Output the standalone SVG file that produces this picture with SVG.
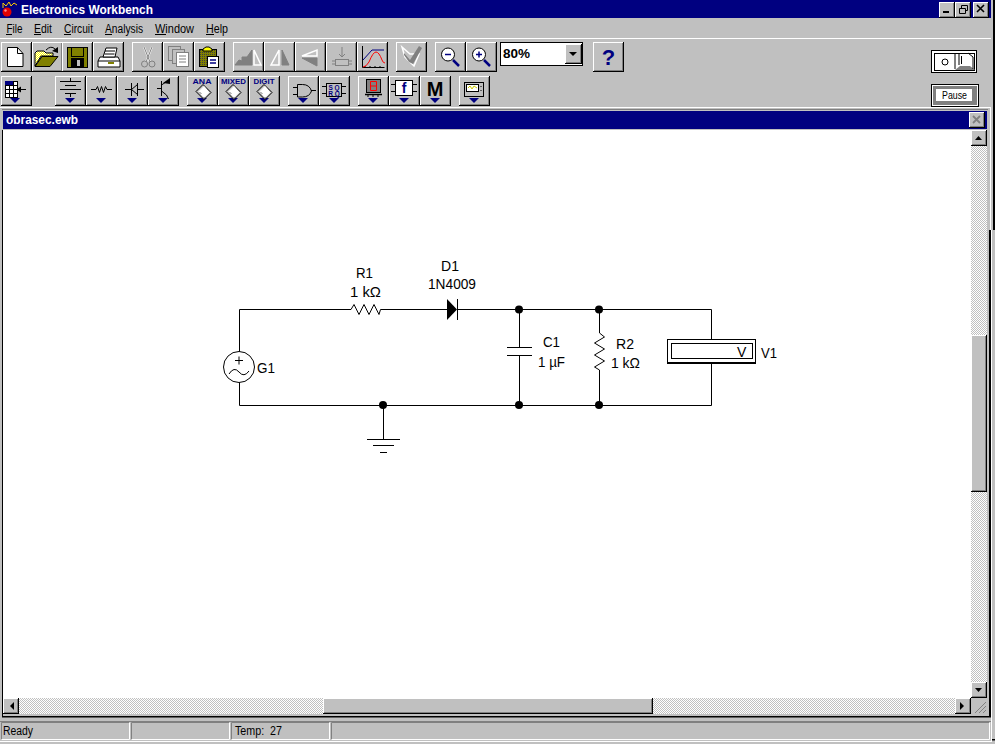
<svg xmlns="http://www.w3.org/2000/svg" width="995" height="744" viewBox="0 0 995 744">
<style>
.ui{font-family:"Liberation Sans",Arial,sans-serif;font-size:12px;fill:#000}
.b{font-weight:bold}
.wt{fill:#fff}
.lab{font-family:"Liberation Sans",Arial,sans-serif;font-size:14px;fill:#000}
.w{fill:none;stroke:#000;stroke-width:1}
.ic{fill:none;stroke:#000;stroke-width:1}
.gi{fill:#808080;stroke:#808080;stroke-width:1}
.ho{fill:#c0c0c0;stroke:#fff;stroke-width:1.5}
.n{fill:#000080}
.dot{fill:#000}
.chip{font-family:"Liberation Sans",Arial,sans-serif;font-size:7.5px;fill:#000080;text-anchor:middle;font-weight:bold}
</style>
<defs>
<pattern id="dither" width="2" height="2" patternUnits="userSpaceOnUse"><rect width="2" height="2" fill="#fff"/><rect width="1" height="1" fill="#c0c0c0"/><rect x="1" y="1" width="1" height="1" fill="#c0c0c0"/></pattern>
<pattern id="ydither" width="2" height="2" patternUnits="userSpaceOnUse"><rect width="2" height="2" fill="#ffff00"/><rect width="1" height="1" fill="#fff"/><rect x="1" y="1" width="1" height="1" fill="#fff"/></pattern>
<pattern id="odither" width="2" height="2" patternUnits="userSpaceOnUse"><rect width="2" height="2" fill="#808000"/><rect width="1" height="1" fill="#404040"/></pattern>
<g id="btn"><rect width="31" height="30" fill="#000"/><rect width="30" height="29" fill="#fff"/><rect x="1" y="1" width="29" height="28" fill="#808080"/><rect x="1" y="1" width="28" height="27" fill="#c0c0c0"/></g>
<g id="sbtn"><rect width="16" height="16" fill="#000"/><rect width="15" height="15" fill="#fff"/><rect x="1" y="1" width="14" height="14" fill="#808080"/><rect x="1" y="1" width="13" height="13" fill="#c0c0c0"/></g>
<path id="tri" d="M-5 0h10l-5 5z" class="n"/>
<g id="chipic"><path d="M0 -7l8 8-7 7-8-8z" fill="#c0c0c0" stroke="#000"/><path d="M1 -5l5 6-5 5-5-6z" fill="#fff" stroke="#fff"/><path d="M-3 1l1 1M1 6l1 1" stroke="#000"/></g>
</defs>
<rect width="995" height="744" fill="#c0c0c0"/>
<g id="titlebar">
<rect x="0" y="0" width="991" height="18" class="n"/>
<rect x="993" y="0" width="2" height="230" fill="#000"/>
<path d="M3 8V3l3 3 3-4 2 4 3-3 3 2" fill="none" stroke="#ffcc00"/>
<circle cx="7" cy="12" r="4.500" fill="#e00000"/>
<circle cx="5.500" cy="10.500" r="1.200" fill="#ff9090"/>
<text x="21" y="13.500" class="ui b wt" textLength="132" lengthAdjust="spacingAndGlyphs" style="font-size:12.500px">Electronics Workbench</text>
<use href="#sbtn" x="939" y="2"/>
<use href="#sbtn" x="955" y="2"/>
<use href="#sbtn" x="973" y="2"/>
<rect x="943" y="11" width="6" height="2"/>
<path d="M959.500 8.500h6v5h-6zM961.500 8.500v-3h6v5h-2" fill="none" stroke="#000"/>
<path d="M977 5l7 7M984 5l-7 7" stroke="#000" stroke-width="1.600"/>
</g>
<g id="menubar">
<text x="6.500" y="32.500" class="ui" textLength="16" lengthAdjust="spacingAndGlyphs">File</text><rect x="6" y="34" width="6" height="1"/>
<text x="34" y="32.500" class="ui" textLength="18" lengthAdjust="spacingAndGlyphs">Edit</text><rect x="34" y="34" width="7" height="1"/>
<text x="64" y="32.500" class="ui" textLength="29" lengthAdjust="spacingAndGlyphs">Circuit</text><rect x="64" y="34" width="7" height="1"/>
<text x="105" y="32.500" class="ui" textLength="38" lengthAdjust="spacingAndGlyphs">Analysis</text><rect x="105" y="34" width="7" height="1"/>
<text x="155" y="32.500" class="ui" textLength="39" lengthAdjust="spacingAndGlyphs">Window</text><rect x="155" y="34" width="11" height="1"/>
<text x="206" y="32.500" class="ui" textLength="22" lengthAdjust="spacingAndGlyphs">Help</text><rect x="206" y="34" width="8" height="1"/>
<rect x="0" y="38" width="991" height="1" fill="#fff"/>
</g>
<g id="toolbar1">
<use href="#btn" x="1" y="42"/><use href="#btn" x="32" y="42"/><use href="#btn" x="62" y="42"/><use href="#btn" x="93" y="42"/>
<use href="#btn" x="132" y="42"/><use href="#btn" x="163" y="42"/><use href="#btn" x="194" y="42"/>
<use href="#btn" x="233" y="42"/><use href="#btn" x="264" y="42"/><use href="#btn" x="295" y="42"/><use href="#btn" x="326" y="42"/><use href="#btn" x="357" y="42"/>
<use href="#btn" x="396" y="42"/><use href="#btn" x="435" y="42"/><use href="#btn" x="466" y="42"/><use href="#btn" x="593" y="42"/>
<path d="M7.500 47.500h10l5.500 6v13H7.500z" fill="#fff" stroke="#000"/><path d="M17.500 47.500v6h5.500" fill="none" stroke="#000"/>
<path d="M35 66V53l2-2h7l2 2h7v3H41z" fill="url(#ydither)" stroke="#000"/><path d="M35 66.500l7-10h16l-8 10z" fill="#808000" stroke="#000"/><path d="M46 50q5-5 9-1" fill="none" stroke="#000"/><path d="M52 51l6-4v6z"/>
<rect x="67.500" y="47.500" width="20" height="20" fill="#808000" stroke="#000"/><rect x="71.500" y="47.500" width="12" height="9" fill="#808000" stroke="#000"/><rect x="71" y="58" width="13" height="9.500" fill="#000"/><rect x="77" y="60" width="3" height="6" fill="#c0c0c0"/>
<path d="M98 61l2-4h18l2 4v6H98z" fill="#fff" stroke="#000"/><path d="M103 57l3-9h11l-2 9z" fill="#fff" stroke="#000"/><path d="M105 51h10M104.500 54h10" stroke="#000"/><path d="M98 61h22" stroke="#000"/><rect x="108" y="62" width="6" height="2" fill="#808000"/>
<path d="M144 47l6 15M152 47l-6 15" fill="none" stroke="#fff" stroke-width="2"/><path d="M144 47l6 15M152 47l-6 15" fill="none" stroke="#808080"/><circle cx="144.500" cy="64" r="3" fill="none" stroke="#808080"/><circle cx="152" cy="64" r="3" fill="none" stroke="#808080"/>
<rect x="168.500" y="46.500" width="12" height="14" fill="#c0c0c0" stroke="#808080"/><rect x="172.500" y="49.500" width="12" height="14" fill="#c0c0c0" stroke="#808080"/><rect x="176.500" y="52.500" width="12" height="14" fill="#fff" stroke="#808080"/><path d="M179 56h7M179 59h7M179 62h7" stroke="#808080"/>
<rect x="199.500" y="49.500" width="17" height="17" fill="url(#odither)" stroke="#000"/><path d="M203 51v-2l3-2h3l3 2v2z" fill="#ffff00" stroke="#000"/><rect x="207.500" y="56.500" width="11" height="11" fill="#fff" stroke="#000"/><path d="M210 60h6M210 63h6" stroke="#000080" stroke-width="1.500"/>
<path d="M235 65l4-5 3 1 0-4 5 0 5-7v15z" class="gi"/><path d="M254 50l7 15h-7z" class="ho"/>
<path d="M279 50l-8 15h8z" class="ho"/><path d="M282 50l7 15h-7z" class="gi"/>
<path d="M302 56l15-6v6z" class="ho"/><path d="M302 58h15v8z" class="gi"/>
<path d="M342 47v9M339 54l3 3 3-3" fill="none" stroke="#808080"/><rect x="335.500" y="59.500" width="13" height="6" fill="#c0c0c0" stroke="#808080"/><path d="M332 61h3M332 64h3M349 61h3M349 64h3" stroke="#808080"/>
<path d="M362.500 46v21.500h22M365 66v2M370 66v2M375 66v2M380 66v2" fill="none" stroke="#000"/><path d="M363 60l9-10h12" fill="none" stroke="#000080"/><path d="M363 67q3 0 6-5q4-10 7-10q3 0 6 8q1 3 3 3" fill="none" stroke="#f00"/>
<path d="M402 47l8 7h9l-5 12-9-9z" class="ho"/><path d="M404 53l6 7 9-14 3 2-9 16-4-2-5-7z" fill="#808080"/>
<circle cx="448" cy="54.500" r="6.500" fill="#fff" stroke="#000"/><path d="M445 54.500h6" stroke="#000080" stroke-width="1.500"/><path d="M453 60l6 6" stroke="#000080" stroke-width="2.500"/>
<circle cx="479" cy="54.500" r="6.500" fill="#fff" stroke="#000"/><path d="M476 54.500h6M479 51.500v6" stroke="#000080" stroke-width="1.500"/><path d="M484 60l6 6" stroke="#000080" stroke-width="2.500"/>
<rect x="500.500" y="42.500" width="82" height="23" fill="#fff" stroke="#000"/>
<text x="503" y="58" class="ui b" style="font-size:13.500px">80%</text>
<rect x="565" y="44" width="17" height="20" fill="#000"/><rect x="565" y="44" width="16" height="19" fill="#fff"/><rect x="566" y="45" width="15" height="18" fill="#808080"/><rect x="566" y="45" width="14" height="17" fill="#c0c0c0"/><path d="M569 52h8l-4 4z"/>
<text x="608.500" y="65" class="ui b" text-anchor="middle" style="font-size:22px;fill:#000080">?</text>
</g>
<g id="toolbar2">
<use href="#btn" x="1" y="76"/>
<use href="#btn" x="55" y="76"/><use href="#btn" x="86" y="76"/><use href="#btn" x="117" y="76"/><use href="#btn" x="148" y="76"/>
<use href="#btn" x="187" y="76"/><use href="#btn" x="218" y="76"/><use href="#btn" x="249" y="76"/>
<use href="#btn" x="288" y="76"/><use href="#btn" x="319" y="76"/>
<use href="#btn" x="358" y="76"/><use href="#btn" x="389" y="76"/><use href="#btn" x="420" y="76"/><use href="#btn" x="459" y="76"/>
<use href="#tri" x="15" y="98"/><use href="#tri" x="70" y="98"/><use href="#tri" x="101" y="98"/><use href="#tri" x="132" y="98"/><use href="#tri" x="163" y="98"/><use href="#tri" x="202" y="98"/><use href="#tri" x="233" y="98"/><use href="#tri" x="264" y="98"/><use href="#tri" x="303" y="98"/><use href="#tri" x="334" y="98"/><use href="#tri" x="373" y="98"/><use href="#tri" x="404" y="98"/><use href="#tri" x="435" y="98"/><use href="#tri" x="474" y="98"/>
<rect x="5.500" y="81.500" width="12" height="16" fill="#fff" stroke="#000"/><path d="M5.500 85.500h12M5.500 89.500h12M5.500 93.500h12M9.500 81.500v16M13.500 81.500v16" stroke="#000"/><rect x="5" y="81" width="8" height="4" class="n"/><path d="M17 89.500h9" stroke="#000"/><path d="M16 89.500l5-3v6z"/>
<path d="M60 81.500h21M65 85.500h11M60 89.500h21M65 93.500h11M70.500 78v3M70.500 94v3" class="ic"/>
<path d="M91 89.500h5l1.500-3 2 6 2-6 2 6 2-6 1.500 3h5" class="ic"/>
<path d="M125 89.500h6M138 89.500h6M131.500 83v13M137.500 83v13M131.500 89.500l6-5v10z" class="ic"/>
<path d="M161.500 81v15M157 88.500h4.500M161.500 85l6-4M161.500 91l5 4 2 4" class="ic"/><path d="M163 83l7-5v6z"/>
<text x="202" y="84" class="chip" textLength="19" lengthAdjust="spacingAndGlyphs">ANA</text><text x="233.500" y="84" class="chip" textLength="25" lengthAdjust="spacingAndGlyphs">MIXED</text><text x="264" y="84" class="chip" textLength="21" lengthAdjust="spacingAndGlyphs">DIGIT</text>
<use href="#chipic" x="203" y="91.500"/><use href="#chipic" x="233" y="91.500"/><use href="#chipic" x="264" y="91.500"/>
<path d="M297.500 84.500h5q7 0 9 6.500q-2 6-9 6h-5zM293 87.500h4M293 94.500h4M311 90.500h5" fill="none" stroke="#000"/>
<rect x="326.500" y="83.500" width="15" height="13" fill="#c0c0c0" stroke="#000"/><path d="M322 86.500h4M322 93.500h4M342 86.500h4M342 93.500h4" stroke="#000"/><text x="334" y="89.500" class="chip" style="font-size:6.500px">S Q</text><text x="334" y="95.500" class="chip" style="font-size:6.500px">R Q</text>
<rect x="366.500" y="79.500" width="14" height="13" fill="#808080" stroke="#000"/><path d="M370.500 81.500h6v9h-6zM370.500 86h6" fill="none" stroke="#f00"/><path d="M365 94.500h17" stroke="#000" stroke-width="1.500"/><path d="M368 94v3M373 94v3M378 94v3" stroke="#000"/>
<rect x="395.500" y="80.500" width="17" height="15" fill="#fff" stroke="#000"/><path d="M391 84.500h4M391 91.500h4M413 84.500h4M413 91.500h4" stroke="#000"/><text x="404" y="93" font-size="14" font-family="Liberation Sans,sans-serif" font-weight="bold" fill="#000080" text-anchor="middle">f</text>
<text x="435" y="96" font-size="20" font-family="Liberation Sans,sans-serif" font-weight="bold" text-anchor="middle">M</text>
<rect x="464.500" y="82.500" width="19" height="14" fill="#c0c0c0" stroke="#000"/><rect x="466" y="84" width="13" height="8" fill="#000"/><rect x="467" y="85" width="11" height="6" fill="#fff"/><path d="M468 88l2-2 2 3 2-3 3 2" fill="none" stroke="#cc0"/><path d="M481 86v1M481 90v1" stroke="#000"/>
</g>
<g id="switches">
<rect x="931.500" y="50.500" width="45" height="22" fill="#fff" stroke="#000"/>
<rect x="934.500" y="53.500" width="40" height="17" fill="#fff" stroke="#000"/>
<path d="M955 70l5-4h10l5 4z" fill="#808080"/><path d="M955 54v15M959 53v12M968 53l5 4v12" stroke="#000" fill="none"/>
<circle cx="945" cy="62" r="3" fill="none" stroke="#000"/><path d="M961.500 56v8" stroke="#000"/>
<rect x="931.500" y="84.500" width="47" height="22" fill="#fff" stroke="#000"/><rect x="933" y="86" width="44" height="19" fill="#808080"/><rect x="936" y="89" width="36" height="12" fill="#fff"/>
<text x="942" y="99" class="ui" textLength="25" lengthAdjust="spacingAndGlyphs" style="font-size:11px">Pause</text>
</g>
<g id="docwindow">
<rect x="0" y="107" width="990" height="1" fill="#fff"/>
<rect x="990" y="107" width="1" height="123" fill="#fff"/>
<rect x="2" y="109" width="986" height="1" fill="#808080"/>
<rect x="3" y="111" width="984" height="18" class="n"/>
<text x="6" y="124" class="ui b wt" textLength="72" lengthAdjust="spacingAndGlyphs">obrasec.ewb</text>
<use href="#sbtn" x="969" y="112"/>
<path d="M973 116l7 7M980 116l-7 7" stroke="#808080" stroke-width="1.800"/>
<rect x="3" y="130" width="984" height="584" fill="#fff"/>
<rect x="971" y="130" width="16" height="568" fill="url(#dither)"/>
<rect x="3" y="698" width="968" height="16" fill="url(#dither)"/>
<rect x="971" y="698" width="16" height="16" fill="#c0c0c0"/>
<use href="#sbtn" x="971" y="130"/><path d="M975 140h7l-3.500-4z"/>
<rect x="971" y="335" width="16" height="157" fill="#000"/><rect x="971" y="335" width="15" height="156" fill="#fff"/><rect x="972" y="336" width="14" height="155" fill="#808080"/><rect x="972" y="336" width="13" height="154" fill="#c0c0c0"/>
<use href="#sbtn" x="971" y="682"/><path d="M975 688h7l-3.500 4z"/>
<use href="#sbtn" x="3" y="698"/><path d="M14 702v8l-4-4z"/>
<rect x="323" y="698" width="330" height="16" fill="#000"/><rect x="323" y="698" width="329" height="15" fill="#fff"/><rect x="324" y="699" width="328" height="14" fill="#808080"/><rect x="324" y="699" width="327" height="13" fill="#c0c0c0"/>
<use href="#sbtn" x="955" y="698"/><path d="M960 702v8l4-4z"/>
<path d="M975 713l11-11M979 713l7-7M983 713l3-3" stroke="#808080"/>
<rect x="2" y="130" width="1" height="586" fill="#000"/>
<rect x="989" y="230" width="2" height="487" fill="#000"/>
<rect x="2" y="716" width="989" height="1.500" fill="#000"/>
<rect x="0" y="721" width="991" height="1" fill="#808080"/>
</g>
<g id="statusbar">
<path d="M1.500 739.500v-17h128M131.500 739.500v-17h98M231.500 739.500v-17h98M331.500 739.500v-17h658" fill="none" stroke="#808080"/>
<path d="M1.500 739.500h128v-17M131.500 739.500h98v-17M231.500 739.500h98v-17M331.500 739.500h658v-17" fill="none" stroke="#fff"/>
<text x="3" y="735" class="ui" textLength="30" lengthAdjust="spacingAndGlyphs">Ready</text>
<text x="235" y="735" class="ui" textLength="47" lengthAdjust="spacingAndGlyphs" xml:space="preserve">Temp:  27</text>
<rect x="0" y="741" width="992" height="1" fill="#fff"/>
<rect x="991" y="230" width="1" height="511" fill="#fff"/>
<rect x="992" y="739" width="3" height="1.500" fill="#000"/>
</g>
<g id="connectors">
<path class="w" d="M239.500 352V309.500H348M385 309.500H447M458 309.500H711.500V339M711.500 364V405.500H239.500V382"/>
<path class="w" d="M383.500 405.500V439"/>
<path class="w" d="M519.500 309.500V347.500M519.500 355.500V405.500"/>
<path class="w" d="M599.500 309.500V333M599.500 370V405.500"/>
</g>
<g id="G1"><circle cx="239" cy="367" r="15.500" fill="#fff" stroke="#000"/><path d="M235 360.500h8M239 356.500v8" stroke="#000"/><path d="M229 374q5-8 10-2t10-1" fill="none" stroke="#000"/><text x="257" y="373" class="lab" textLength="18" lengthAdjust="spacingAndGlyphs">G1</text></g>
<g id="R1"><path class="w" d="M348 309.500l3 0 3-5 5 10 5-10 5 10 5-10 5 10 1.500-5H385"/><text x="356" y="278" class="lab" textLength="17" lengthAdjust="spacingAndGlyphs">R1</text><text x="350" y="297" class="lab" textLength="31" lengthAdjust="spacingAndGlyphs">1 kΩ</text></g>
<g id="D1"><path d="M447 299v21l10-10.500z" fill="#000"/><path d="M457.500 299v21" stroke="#000"/><text x="441" y="271" class="lab" textLength="18" lengthAdjust="spacingAndGlyphs">D1</text><text x="428" y="289" class="lab" textLength="48" lengthAdjust="spacingAndGlyphs">1N4009</text></g>
<g id="C1"><path d="M507 347.500h25M507 355.500h25" stroke="#000"/><text x="543" y="347" class="lab" textLength="17" lengthAdjust="spacingAndGlyphs">C1</text><text x="538" y="367" class="lab" textLength="27" lengthAdjust="spacingAndGlyphs">1 µF</text></g>
<g id="R2"><path class="w" d="M599.500 333l5 4-10 6 10 6-10 6 10 6-10 6 5 3"/><text x="616" y="349" class="lab" textLength="18" lengthAdjust="spacingAndGlyphs">R2</text><text x="611" y="368" class="lab" textLength="29" lengthAdjust="spacingAndGlyphs">1 kΩ</text></g>
<g id="V1"><rect x="667.500" y="339.500" width="88" height="23" fill="#fff" stroke="#000"/><rect x="667" y="362" width="89" height="2" fill="#000"/><rect x="671.500" y="343.500" width="81" height="15" fill="#fff" stroke="#000"/><text x="737" y="357" class="lab">V</text><text x="761" y="358" class="lab" textLength="16" lengthAdjust="spacingAndGlyphs">V1</text></g>
<g id="ground"><path d="M367 439.500h33M373 445.500h21M380 452.500h7" stroke="#000"/></g>
<g id="junctions"><circle cx="383" cy="405" r="4" class="dot"/><circle cx="519" cy="309.500" r="4" class="dot"/><circle cx="599" cy="309.500" r="4" class="dot"/><circle cx="519" cy="405" r="4" class="dot"/><circle cx="599" cy="405" r="4" class="dot"/></g>
</svg>
